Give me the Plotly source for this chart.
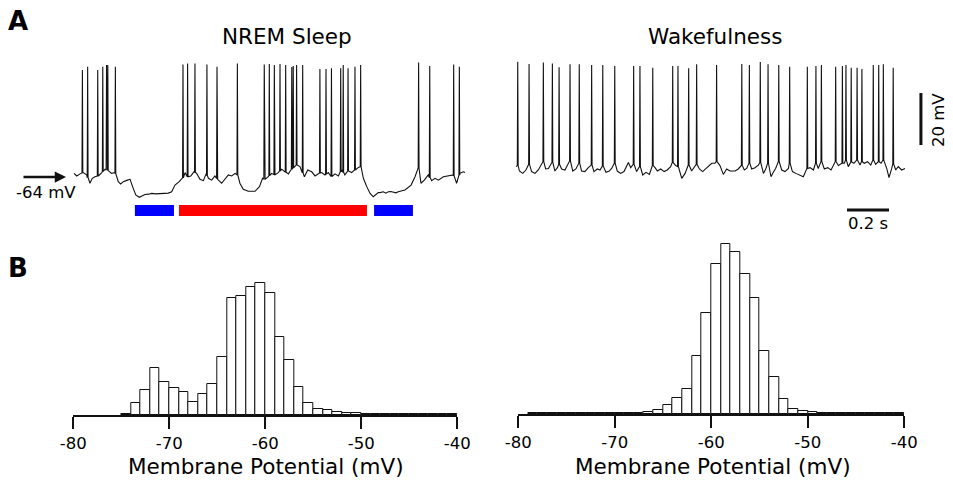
import numpy as np
import plotly.graph_objects as go

W, H = 953, 483
FONT = "DejaVu Sans"
INK = "#111111"

# ---------------- Panel A: intracellular traces ----------------
# NREM sleep: membrane potential between spikes (time in s, potential in mV)
nrem_base_t = [0.000, 0.013, 0.029, 0.044, 0.060, 0.076, 0.087, 0.100, 0.116, 0.132,
               0.148, 0.163, 0.179, 0.195, 0.211, 0.222, 0.235, 0.254, 0.267, 0.279,
               0.294, 0.311, 0.325, 0.338, 0.355, 0.370, 0.390, 0.410, 0.430, 0.449,
               0.465, 0.481, 0.501, 0.518, 0.529, 0.540, 0.556, 0.571, 0.584, 0.600,
               0.616, 0.629, 0.640, 0.656, 0.671, 0.684, 0.703, 0.719, 0.735, 0.751,
               0.767, 0.778, 0.790, 0.806, 0.830, 0.862, 0.883, 0.898, 0.910, 0.925,
               0.941, 0.957, 0.973, 0.989, 1.005, 1.021, 1.037, 1.060, 1.076, 1.097,
               1.113, 1.132, 1.148, 1.163, 1.179, 1.195, 1.211, 1.227, 1.243, 1.259,
               1.275, 1.290, 1.306, 1.322, 1.338, 1.354, 1.367, 1.378, 1.394, 1.410,
               1.425, 1.437, 1.449, 1.461, 1.473, 1.485, 1.497, 1.509, 1.521, 1.533,
               1.544, 1.560, 1.576, 1.605, 1.624, 1.640, 1.652, 1.668, 1.687, 1.703,
               1.719, 1.735, 1.759, 1.783, 1.806, 1.822, 1.838, 1.854, 1.862]
nrem_base_v = [-62.6, -63.6, -62.8, -62.3, -63.2, -66.4, -64.5, -63.9, -63.6, -62.3,
               -61.0, -61.6, -62.6, -62.3, -65.8, -66.7, -65.8, -65.2, -64.9, -67.7,
               -70.9, -71.8, -71.2, -70.7, -70.6, -70.3, -70.5, -70.4, -70.1, -70.2,
               -69.7, -67.1, -65.8, -64.5, -62.3, -63.9, -63.6, -62.0, -62.6, -64.9,
               -65.4, -62.8, -64.5, -65.2, -63.6, -64.9, -66.4, -64.9, -63.2, -63.6,
               -62.6, -63.2, -66.4, -68.7, -69.5, -69.5, -67.7, -64.5, -64.9, -63.9,
               -62.6, -63.2, -62.3, -61.0, -62.0, -62.8, -61.0, -59.4, -60.0, -63.9,
               -61.3, -62.0, -63.6, -62.6, -62.3, -63.2, -62.3, -63.9, -62.8, -63.6,
               -61.3, -63.2, -61.6, -62.3, -61.3, -60.3, -60.0, -64.5, -67.7, -70.3,
               -71.6, -70.6, -70.0, -69.9, -69.7, -70.2, -69.7, -69.6, -70.0, -70.1,
               -69.7, -69.4, -69.0, -67.1, -63.9, -60.0, -66.4, -65.2, -63.2, -65.4,
               -64.5, -65.2, -63.9, -63.6, -63.2, -66.4, -62.6, -62.0, -62.3]
nrem_spike_t = [0.040, 0.065, 0.113, 0.137, 0.155, 0.161, 0.197,
                0.519, 0.541, 0.576, 0.633, 0.681, 0.778,
                0.906, 0.930, 0.954, 0.981, 1.008, 1.037, 1.044, 1.060, 1.089,
                1.171, 1.200, 1.226, 1.270, 1.282, 1.305, 1.338, 1.365,
                1.641, 1.694, 1.808, 1.835]
nrem_spike_v = [-22.8, -21.6, -22.8, -21.6, -20.9, -20.9, -21.6,
                -20.7, -20.3, -20.3, -20.7, -21.6, -20.3,
                -20.7, -20.5, -20.9, -20.5, -20.9, -21.7, -21.3, -20.9, -20.9,
                -22.5, -22.5, -22.2, -22.2, -20.9, -22.2, -21.6, -20.9,
                -20.0, -21.3, -20.7, -21.6]
nrem_down_states = [(0.290, 0.476), (1.429, 1.614)]
nrem_up_states = [(0.500, 1.395)]
NREM_REF_MV = -64

# Wakefulness: membrane potential between spikes
wake_base_t = [0.005, 0.013, 0.021, 0.037, 0.052, 0.067, 0.079, 0.095, 0.111, 0.135,
               0.146, 0.159, 0.178, 0.190, 0.202, 0.210, 0.222, 0.238, 0.262, 0.275,
               0.290, 0.306, 0.317, 0.333, 0.349, 0.365, 0.376, 0.392, 0.405, 0.417,
               0.433, 0.449, 0.460, 0.475, 0.487, 0.503, 0.519, 0.540, 0.551, 0.565,
               0.579, 0.595, 0.608, 0.624, 0.640, 0.656, 0.667, 0.678, 0.694, 0.710,
               0.725, 0.741, 0.751, 0.765, 0.776, 0.786, 0.794, 0.810, 0.827, 0.841,
               0.857, 0.865, 0.878, 0.894, 0.910, 0.925, 0.937, 0.952, 0.960, 0.976,
               0.992, 1.008, 1.024, 1.048, 1.063, 1.079, 1.092, 1.103, 1.116, 1.127,
               1.143, 1.159, 1.168, 1.183, 1.195, 1.205, 1.219, 1.230, 1.241, 1.256,
               1.270, 1.286, 1.302, 1.308, 1.321, 1.337, 1.357, 1.373, 1.392, 1.405,
               1.421, 1.433, 1.444, 1.459, 1.473, 1.489, 1.505, 1.527, 1.540, 1.559,
               1.568, 1.576, 1.587, 1.602, 1.614, 1.629, 1.643, 1.652, 1.663, 1.679,
               1.694, 1.706, 1.717, 1.732, 1.743, 1.754, 1.770, 1.781, 1.794, 1.802,
               1.813, 1.825, 1.841, 1.857]
wake_base_v = [-57.2, -56.8, -58.9, -59.8, -58.5, -56.3, -59.1, -59.8, -58.5, -55.3,
               -58.1, -57.9, -55.6, -58.9, -57.6, -56.3, -58.1, -58.5, -55.0, -58.9,
               -58.1, -55.9, -58.9, -59.1, -57.6, -56.6, -59.1, -58.1, -58.5, -56.8,
               -59.4, -58.9, -57.9, -55.9, -58.9, -59.8, -59.1, -55.6, -57.6, -56.3,
               -59.1, -57.2, -60.4, -59.4, -60.2, -56.8, -57.6, -58.9, -58.1, -59.1,
               -58.5, -57.2, -55.6, -56.8, -57.2, -59.8, -61.7, -59.8, -56.6, -58.9,
               -57.2, -56.3, -58.1, -59.1, -57.9, -56.8, -55.9, -55.9, -55.3, -56.8,
               -60.2, -58.1, -58.9, -58.9, -58.1, -56.6, -58.5, -57.9, -55.9, -58.1,
               -57.6, -56.6, -55.6, -59.8, -57.9, -55.9, -61.1, -59.4, -57.9, -55.3,
               -58.5, -59.1, -57.9, -55.9, -59.1, -59.8, -60.4, -61.1, -57.9, -57.6,
               -58.5, -55.9, -57.9, -55.3, -58.1, -57.6, -58.5, -55.3, -56.8, -55.9,
               -55.9, -54.7, -57.2, -55.3, -55.9, -54.7, -56.6, -55.3, -55.9, -55.3,
               -56.6, -54.7, -56.3, -55.3, -55.9, -54.7, -57.9, -61.4, -57.9, -55.9,
               -58.5, -57.2, -58.5, -57.9]
wake_spike_t = [0.013, 0.067, 0.135, 0.178, 0.210, 0.262, 0.306, 0.365, 0.418, 0.475,
                0.565, 0.595, 0.656, 0.751, 0.776, 0.827, 0.865, 0.960, 1.080, 1.116,
                1.168, 1.205, 1.256, 1.308, 1.392, 1.433, 1.459, 1.527, 1.559, 1.576,
                1.601, 1.629, 1.652, 1.706, 1.732, 1.754, 1.801]
wake_spike_v = [-16.9, -17.7, -17.2, -17.5, -19.0, -17.8, -17.8, -18.1, -18.1, -18.5,
                -18.5, -18.5, -19.2, -18.5, -18.5, -19.4, -17.8, -18.1, -17.7, -18.1,
                -17.0, -17.8, -18.1, -18.8, -18.8, -18.5, -18.1, -18.8, -18.5, -18.1,
                -19.2, -19.2, -19.7, -18.1, -18.1, -17.8, -19.2]

SCALE_MV = 20     # vertical scale bar
SCALE_S = 0.2     # horizontal scale bar

# ---------------- Panel B: membrane potential histograms ----------------
nrem_bin_left = list(range(-75, -40))
nrem_counts = [1.0, 11.7, 25.0, 46.7, 33.3, 26.7, 22.7, 12.7, 21.0, 30.7,
               57.7, 117.3, 118.7, 128.3, 132.0, 122.0, 78.3, 55.0, 28.0, 11.7,
               6.0, 4.7, 3.3, 2.3, 1.7, 1.5, 1.5, 1.3, 1.3, 1.2,
               1.2, 1.2, 1.0, 1.0, 1.0]
wake_bin_left = list(range(-79, -40))
wake_counts = [0.7, 0.8, 0.8, 0.8, 0.8, 0.8, 0.8, 0.8, 0.8, 0.8,
               0.9, 0.9, 2.0, 4.5, 9.0, 16.5, 24.7, 58.0, 101.3, 149.7,
               169.7, 162.0, 140.0, 116.0, 63.3, 37.3, 14.7, 5.5, 3.2, 1.8,
               1.2, 1.2, 1.1, 1.0, 1.0, 1.0, 0.8, 0.8, 0.8]
hist_ticks = [-80, -70, -60, -50, -40]

# ---------------- layout geometry (pixels) ----------------
PX_PER_S = 210.0
PX_PER_MV = 2.6


def fx(px):
    return px / W


def fy(py):
    return 1 - py / H


def build_trace(bt, bv, st, sv, hw=0.002):
    bt = np.asarray(bt, float)
    bv = np.asarray(bv, float)
    st = np.asarray(st, float)
    sv = np.asarray(sv, float)
    keep = np.ones(len(bt), bool)
    for t in st:
        keep &= np.abs(bt - t) > hw
    foot = np.interp(st, bt, bv)
    ts = np.concatenate([bt[keep], st - hw, st, st + hw])
    vs = np.concatenate([bv[keep], foot, sv, foot])
    order = np.argsort(ts, kind="stable")
    return ts[order], vs[order]


top_py = (55, 225)
# left trace: x px 70..470 ; the -64 mV reference sits at py 177
left_x_px = (70, 470)
left_t0_px = 74
left_xrange = [(left_x_px[0] - left_t0_px) / PX_PER_S, (left_x_px[1] - left_t0_px) / PX_PER_S]
left_yrange = [NREM_REF_MV - (top_py[1] - 177) / PX_PER_MV, NREM_REF_MV + (177 - top_py[0]) / PX_PER_MV]
# right trace: starts at px 515 ; -58.5 mV sits at py 170
right_x_px = (505, 945)
right_t0_px = 515
right_xrange = [(right_x_px[0] - right_t0_px) / PX_PER_S, (right_x_px[1] - right_t0_px) / PX_PER_S]
right_yrange = [-58.5 - (top_py[1] - 170) / PX_PER_MV, -58.5 + (170 - top_py[0]) / PX_PER_MV]

fig = go.Figure()

nt, nv = build_trace(nrem_base_t, nrem_base_v, nrem_spike_t, nrem_spike_v)
wt, wv = build_trace(wake_base_t, wake_base_v, wake_spike_t, wake_spike_v)

fig.add_trace(go.Scatter(x=nt, y=nv, mode="lines", line=dict(color=INK, width=1.1),
                         xaxis="x", yaxis="y", hoverinfo="skip"))
fig.add_trace(go.Scatter(x=wt, y=wv, mode="lines", line=dict(color=INK, width=1.1),
                         xaxis="x2", yaxis="y2", hoverinfo="skip"))

bar_style = dict(color="white", line=dict(color=INK, width=1))
fig.add_trace(go.Bar(x=[b + 0.5 for b in nrem_bin_left], y=nrem_counts, width=1,
                     marker=bar_style, xaxis="x3", yaxis="y3", hoverinfo="skip"))
fig.add_trace(go.Bar(x=[b + 0.5 for b in wake_bin_left], y=wake_counts, width=1,
                     marker=bar_style, xaxis="x4", yaxis="y4", hoverinfo="skip"))

shapes = []
# down-state (blue) and up-state (red) markers under the NREM trace
for t0, t1 in nrem_down_states:
    shapes.append(dict(type="rect", xref="x", yref="y", x0=t0, x1=t1, y0=-79.0, y1=-74.8,
                       fillcolor="#0000ff", line=dict(width=0)))
for t0, t1 in nrem_up_states:
    shapes.append(dict(type="rect", xref="x", yref="y", x0=t0, x1=t1, y0=-79.0, y1=-74.8,
                       fillcolor="#ff0000", line=dict(width=0)))
# scale bars on the wake trace
bar_t = 1.933
bar_v0 = -48.9
shapes.append(dict(type="line", xref="x2", yref="y2", x0=bar_t, x1=bar_t,
                   y0=bar_v0, y1=bar_v0 + SCALE_MV, line=dict(color=INK, width=3)))
hbar_t0 = 1.581
hbar_v = -73.9
shapes.append(dict(type="line", xref="x2", yref="y2", x0=hbar_t0, x1=hbar_t0 + SCALE_S,
                   y0=hbar_v, y1=hbar_v, line=dict(color=INK, width=3)))

ann = []


def text(s, px, py, size, xanchor="center", bold=False, angle=0):
    ann.append(dict(text=("<b>%s</b>" % s) if bold else s, x=fx(px), y=fy(py),
                    xref="paper", yref="paper", showarrow=False, xanchor=xanchor,
                    yanchor="middle", textangle=angle,
                    font=dict(family=FONT, size=size, color="black")))


text("A", 6, 21, 26, xanchor="left", bold=True)
text("B", 6, 268, 26, xanchor="left", bold=True)
text("NREM Sleep", 287, 37, 21.5)
text("Wakefulness", 715, 37, 21.5)
text("-64 mV", 14, 192, 16.5, xanchor="left")
text("20 mV", 938, 120, 16.5, angle=-90)
text("0.2 s", 868, 223, 16.5)
text("Membrane Potential (mV)", 266, 466, 21.5)
text("Membrane Potential (mV)", 713, 466, 21.5)

# arrow marking the -64 mV level
ann.append(dict(x=fx(66), y=NREM_REF_MV, xref="paper", yref="y", text="",
                showarrow=True, ax=-44, ay=0, arrowhead=2, arrowsize=0.9,
                arrowwidth=2.5, arrowcolor=INK))

hidden = dict(visible=False, fixedrange=True)
hist_x = dict(range=[-80, -40], tickvals=hist_ticks, ticktext=[str(v) for v in hist_ticks],
              showline=True, linecolor=INK, linewidth=2, ticks="outside", ticklen=12,
              tickwidth=2, tickcolor=INK, showgrid=False, zeroline=False,
              tickfont=dict(family=FONT, size=16.5, color="black"))

fig.update_layout(
    width=W, height=H, margin=dict(l=0, r=0, t=0, b=0, autoexpand=False),
    paper_bgcolor="white", plot_bgcolor="white", showlegend=False,
    bargap=0,
    xaxis=dict(domain=[fx(left_x_px[0]), fx(left_x_px[1])], range=left_xrange, **hidden),
    yaxis=dict(domain=[fy(top_py[1]), fy(top_py[0])], range=left_yrange, **hidden),
    xaxis2=dict(domain=[fx(right_x_px[0]), fx(right_x_px[1])], range=right_xrange, **hidden),
    yaxis2=dict(domain=[fy(top_py[1]), fy(top_py[0])], range=right_yrange, **hidden),
    xaxis3=dict(domain=[fx(73.3), fx(457.3)], anchor="y3", **hist_x),
    yaxis3=dict(domain=[fy(415), fy(235)], range=[0, 180], anchor="x3", **hidden),
    xaxis4=dict(domain=[fx(518.3), fx(904.3)], anchor="y4", **hist_x),
    yaxis4=dict(domain=[fy(414), fy(234)], range=[0, 180], anchor="x4", **hidden),
    shapes=shapes, annotations=ann,
)

fig.write_html("out.html")
